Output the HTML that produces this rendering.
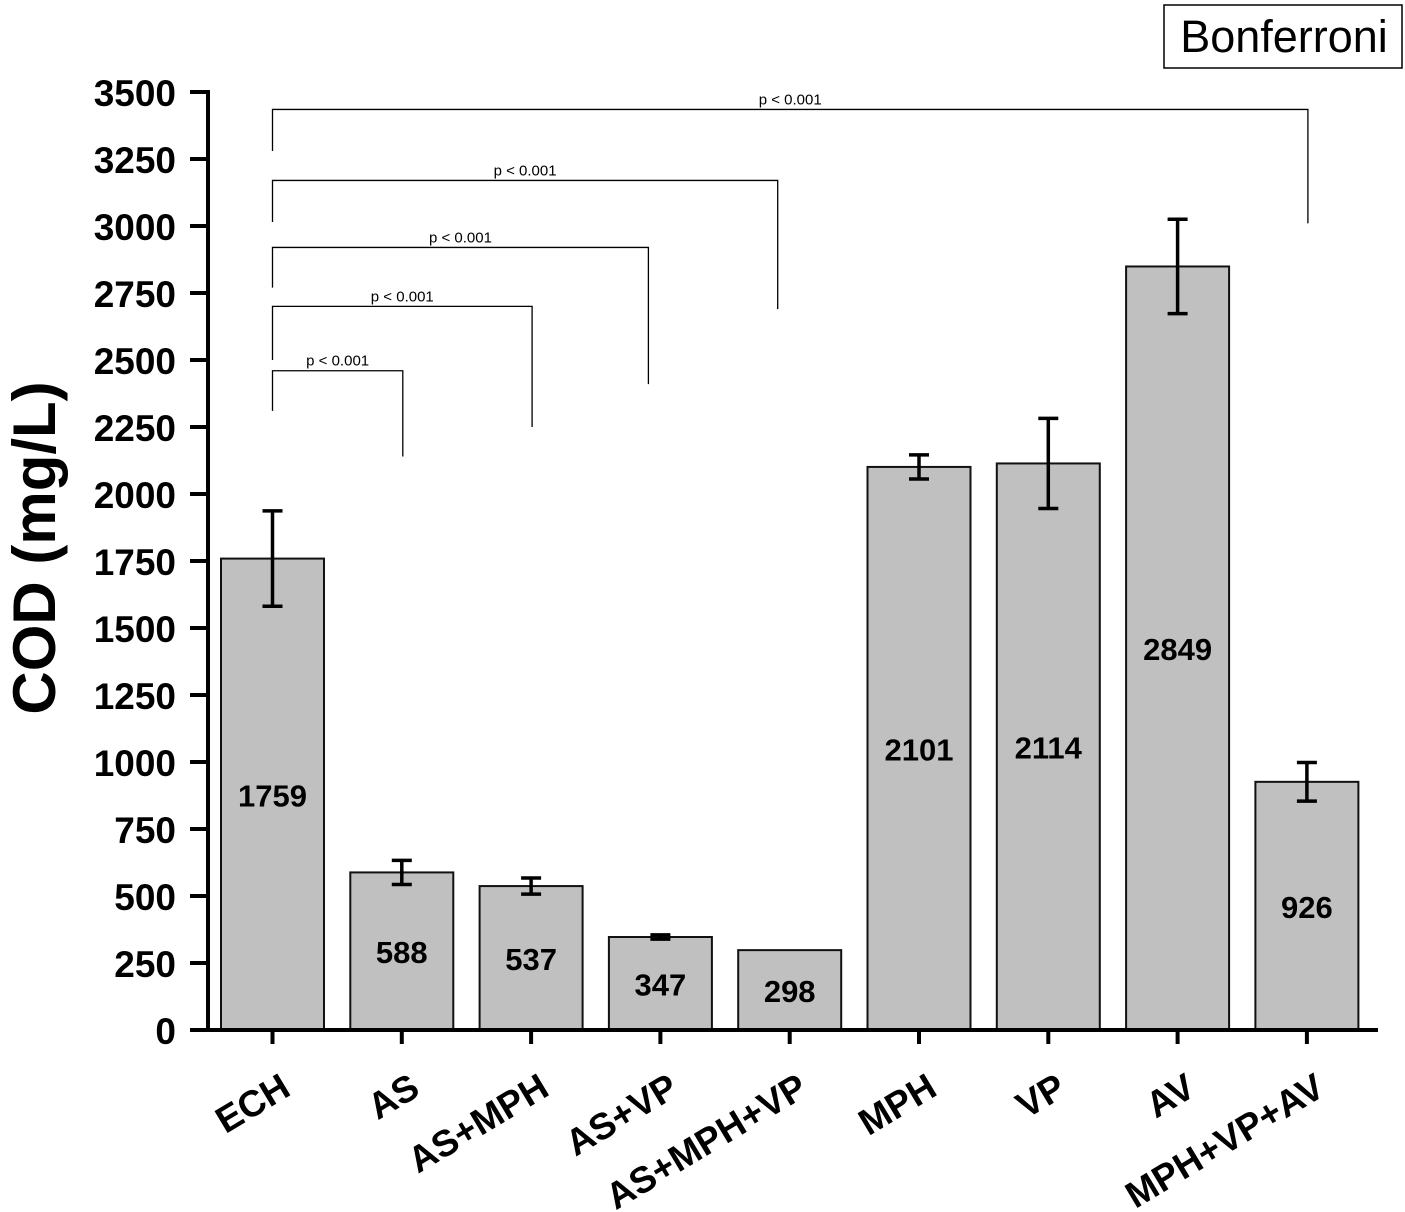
<!DOCTYPE html>
<html><head><meta charset="utf-8"><style>
html,body{margin:0;padding:0;background:#fff;}
svg{display:block;font-family:"Liberation Sans",Arial,sans-serif;}
</style></head><body>
<svg id="chart" width="1405" height="1212" viewBox="0 0 1405 1212">
<g id="plot"></g>
<rect x="1164" y="5" width="238" height="63" fill="#fff" stroke="#000" stroke-width="1.5"/>
<text x="1284" y="52" font-size="45" text-anchor="middle">Bonferroni</text>
<text transform="translate(55,548) rotate(-90)" font-size="60" font-weight="bold" text-anchor="middle">COD (mg/L)</text>
</svg>
<script>
const categories = ["ECH","AS","AS+MPH","AS+VP","AS+MPH+VP","MPH","VP","AV","MPH+VP+AV"];
const values = [1759,588,537,347,298,2101,2114,2849,926];
const errors = [178,45,30,8,0,45,168,176,72];
const yTicks = [0,250,500,750,1000,1250,1500,1750,2000,2250,2500,2750,3000,3250,3500];
const compTargets = [1,2,3,4,8];
const compLevels = [2460,2700,2920,3170,3435];
const compLeftBottom = [2310,2500,2770,3015,3280];
const compRightBottom = [2140,2250,2410,2690,3010];
const compLabels = ["p < 0.001","p < 0.001","p < 0.001","p < 0.001","p < 0.001"];

const NS="http://www.w3.org/2000/svg";
const g=document.getElementById('plot');
const y0=1030, yTop=92, yMax=3500;
const y=v=>y0-(v/yMax)*(y0-yTop);
const x=i=>272.5+i*129.3;
const barW=103;
const rOff=[0,0,-13,-13,0];
function mk(tag,attrs){const e=document.createElementNS(NS,tag);for(const k in attrs)e.setAttribute(k,attrs[k]);g.appendChild(e);return e;}

categories.forEach((c,i)=>{
  const r=mk('rect',{x:x(i)-barW/2,y:y(values[i]),width:barW,height:y0-y(values[i]),fill:'#c0c0c0',stroke:'#111','stroke-width':2});
  
  
  if(errors[i]>0){
    const eb=mk('path',{d:`M${x(i)},${y(values[i]+errors[i])}V${y(values[i]-errors[i])}M${x(i)-10},${y(values[i]+errors[i])}h20M${x(i)-10},${y(values[i]-errors[i])}h20`,stroke:'#000','stroke-width':3.5,fill:'none'});
    
    
  }
  const t=mk('text',{x:x(i),y:y(values[i]/2)+12,'font-size':31,'font-weight':'bold','text-anchor':'middle'});
  t.textContent=values[i];
  
  
  const tk=mk('line',{x1:x(i),x2:x(i),y1:y0,y2:y0+14,stroke:'#000','stroke-width':4});
  
  
  const lb=mk('text',{transform:`translate(${x(i)+20},${y0+64}) rotate(-31)`,'font-size':37,'font-weight':'bold','text-anchor':'end'});
  lb.textContent=c;
  
  
});

const ax=mk('path',{d:`M208,${yTop-2}V${y0}H1378`,stroke:'#000','stroke-width':4,fill:'none'});


yTicks.forEach(v=>{
  const l=mk('line',{x1:190,x2:208,y1:y(v),y2:y(v),stroke:'#000','stroke-width':4});
  
  
  const t=mk('text',{x:176,y:y(v)+14,'font-size':37,'font-weight':'bold','text-anchor':'end'});
  t.textContent=v;
  
  
});

compTargets.forEach((ti,k)=>{
  const xl=x(0), xr=x(ti)+1+rOff[k];
  const b=mk('path',{d:`M${xl},${y(compLeftBottom[k])}V${y(compLevels[k])}H${xr}V${y(compRightBottom[k])}`,stroke:'#000','stroke-width':1.3,fill:'none'});
  
  
  const t=mk('text',{x:(xl+xr)/2,y:y(compLevels[k])-5,'font-size':15,'text-anchor':'middle'});
  t.textContent=compLabels[k];
  
  
});
</script>
</body></html>
